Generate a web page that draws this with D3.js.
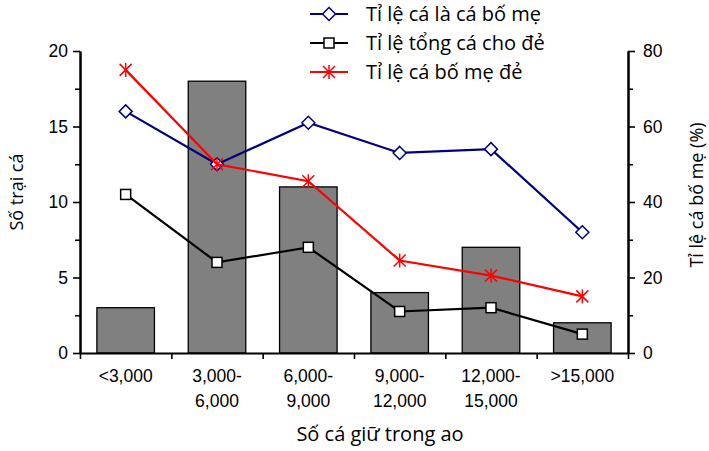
<!DOCTYPE html>
<html>
<head>
<meta charset="utf-8">
<script src="https://cdn.jsdelivr.net/npm/d3@7"></script>
<style>
  body { margin: 0; background: #fff; }
  svg { font-family: "Open Sans", "Noto Sans", sans-serif; }
</style>
</head>
<body>
<svg id="chart" width="709" height="451"></svg>
<script>
// ---- Data ----
const categories = ["<3,000", "3,000-\n6,000", "6,000-\n9,000", "9,000-\n12,000", "12,000-\n15,000", ">15,000"];
const farmCounts = [3, 18, 11, 4, 7, 2];
const parentRate = [64, 50, 61, 53, 54, 32];      // Tỉ lệ cá là cá bố mẹ
const totalSpawnRate = [42, 24, 28, 11, 12, 5];   // Tỉ lệ tổng cá cho đẻ
const parentSpawnRate = [75, 50, 45.5, 24.5, 20.5, 15]; // Tỉ lệ cá bố mẹ đẻ
const leftTicks = [0, 5, 10, 15, 20];
const leftMinor = [2.5, 7.5, 12.5, 17.5];
const rightTicks = [0, 20, 40, 60, 80];
const rightMinor = [10, 30, 50, 70];
const seriesNames = ["Tỉ lệ cá là cá bố mẹ", "Tỉ lệ tổng cá cho đẻ", "Tỉ lệ cá bố mẹ đẻ"];

const svg = d3.select("#chart");
const L = 80, R = 628, T = 51, B = 353;
const FS = 17.5;

const x = d3.scaleBand().domain(categories).range([L, R]).paddingInner(0.37).paddingOuter(0.185);
const xb = d3.scaleLinear().domain([0, categories.length]).range([L, R]);
const yL = d3.scaleLinear().domain([0, 20]).range([B, T]);
const yR = d3.scaleLinear().domain([0, 80]).range([B, T]);

// Bars
svg.append("g").selectAll("rect").data(farmCounts).join("rect")
  .attr("x", (d, i) => x(categories[i]))
  .attr("y", d => yL(d))
  .attr("width", x.bandwidth())
  .attr("height", d => yL(0) - yL(d))
  .attr("fill", "#808080")
  .attr("stroke", "#000")
  .attr("stroke-width", 1.3);

function styleAxis(g, labels) {
  g.select(".domain").attr("stroke", "#000").attr("stroke-width", 2);
  g.selectAll(".tick line").attr("stroke", "#000").attr("stroke-width", 1.6);
  g.selectAll("text").attr("font-size", FS).attr("fill", "#000");
  if (!labels) g.selectAll("text").remove();
}

// Left axis
svg.append("g").attr("transform", `translate(${L},0)`)
  .call(d3.axisLeft(yL).tickValues(leftMinor).tickSize(5).tickSizeOuter(0))
  .call(g => styleAxis(g, false));
svg.append("g").attr("transform", `translate(${L},0)`)
  .call(d3.axisLeft(yL).tickValues(leftTicks).tickSize(7).tickPadding(5).tickSizeOuter(0))
  .call(g => styleAxis(g, true));

// Right axis
svg.append("g").attr("transform", `translate(${R},0)`)
  .call(d3.axisRight(yR).tickValues(rightMinor).tickSize(5).tickSizeOuter(0))
  .call(g => styleAxis(g, false));
svg.append("g").attr("transform", `translate(${R},0)`)
  .call(d3.axisRight(yR).tickValues(rightTicks).tickSize(7).tickPadding(8).tickSizeOuter(0))
  .call(g => styleAxis(g, true));

// Bottom axis (boundary ticks)
svg.append("g").attr("transform", `translate(0,${B})`)
  .call(d3.axisBottom(xb).tickValues(d3.range(categories.length + 1)).tickSize(6).tickSizeOuter(0).tickFormat(""))
  .call(g => styleAxis(g, false));

// Category labels
const xl = svg.append("g").attr("transform", `translate(0,${B})`)
  .call(d3.axisBottom(x).tickSize(0).tickPadding(0));
xl.select(".domain").remove();
xl.selectAll(".tick text").each(function(d) {
  const t = d3.select(this);
  t.text(null).attr("font-size", FS).attr("fill", "#000").attr("y", 0).attr("dy", null);
  d.split("\n").forEach((s, i) => {
    t.append("tspan").attr("x", 0).attr("y", 29 + i * 24.5).text(s);
  });
});

// Lines
const line = d3.line().x((d, i) => x(categories[i]) + x.bandwidth() / 2).y(d => yR(d));
const series = [
  { name: seriesNames[0], values: parentRate, color: "#000080", marker: "diamond" },
  { name: seriesNames[1], values: totalSpawnRate, color: "#000000", marker: "square" },
  { name: seriesNames[2], values: parentSpawnRate, color: "#ff0000", marker: "star" }
];

function drawMarker(g, type, color) {
  if (type === "diamond") {
    g.append("path").attr("d", "M0,-6.5L6.5,0L0,6.5L-6.5,0Z")
      .attr("fill", "#fff").attr("stroke", color).attr("stroke-width", 1.5);
  } else if (type === "square") {
    g.append("rect").attr("x", -5).attr("y", -5).attr("width", 10).attr("height", 10)
      .attr("fill", "#fff").attr("stroke", color).attr("stroke-width", 1.5);
  } else {
    g.append("path").attr("d", "M0,-7V7M-6,-6L6,6M-6,6L6,-6")
      .attr("fill", "none").attr("stroke", color).attr("stroke-width", 1.5);
  }
}

series.forEach(s => {
  svg.append("path").datum(s.values).attr("d", line)
    .attr("fill", "none").attr("stroke", s.color).attr("stroke-width", 2.2);
  s.values.forEach((v, i) => {
    const g = svg.append("g").attr("transform", `translate(${x(categories[i]) + x.bandwidth() / 2},${yR(v)})`);
    drawMarker(g, s.marker, s.color);
  });
});

// Legend
const legendY = [14, 43, 72];
series.forEach((s, i) => {
  const g = svg.append("g").attr("transform", `translate(0,${legendY[i]})`);
  g.append("line").attr("x1", 310).attr("x2", 348).attr("y1", 0).attr("y2", 0)
    .attr("stroke", s.color).attr("stroke-width", 2.2);
  const m = g.append("g").attr("transform", "translate(329,0)");
  drawMarker(m, s.marker, s.color);
  g.append("text").attr("x", 366).attr("y", 7)
    .attr("font-size", 20).attr("fill", "#000").text(s.name);
});

// Axis titles
svg.append("text").attr("x", 380).attr("y", 441).attr("text-anchor", "middle")
  .attr("font-size", 20).attr("fill", "#000").text("Số cá giữ trong ao");
svg.append("text").attr("transform", "translate(17,192) rotate(-90)").attr("text-anchor", "middle")
  .attr("dy", "0.35em")
  .attr("font-size", 18).attr("fill", "#000").text("Số trại cá");
svg.append("text").attr("transform", "translate(697,195) rotate(-90)").attr("text-anchor", "middle")
  .attr("dy", "0.35em")
  .attr("font-size", 18).attr("fill", "#000").text("Tỉ lệ cá bố mẹ (%)");
</script>
</body>
</html>
